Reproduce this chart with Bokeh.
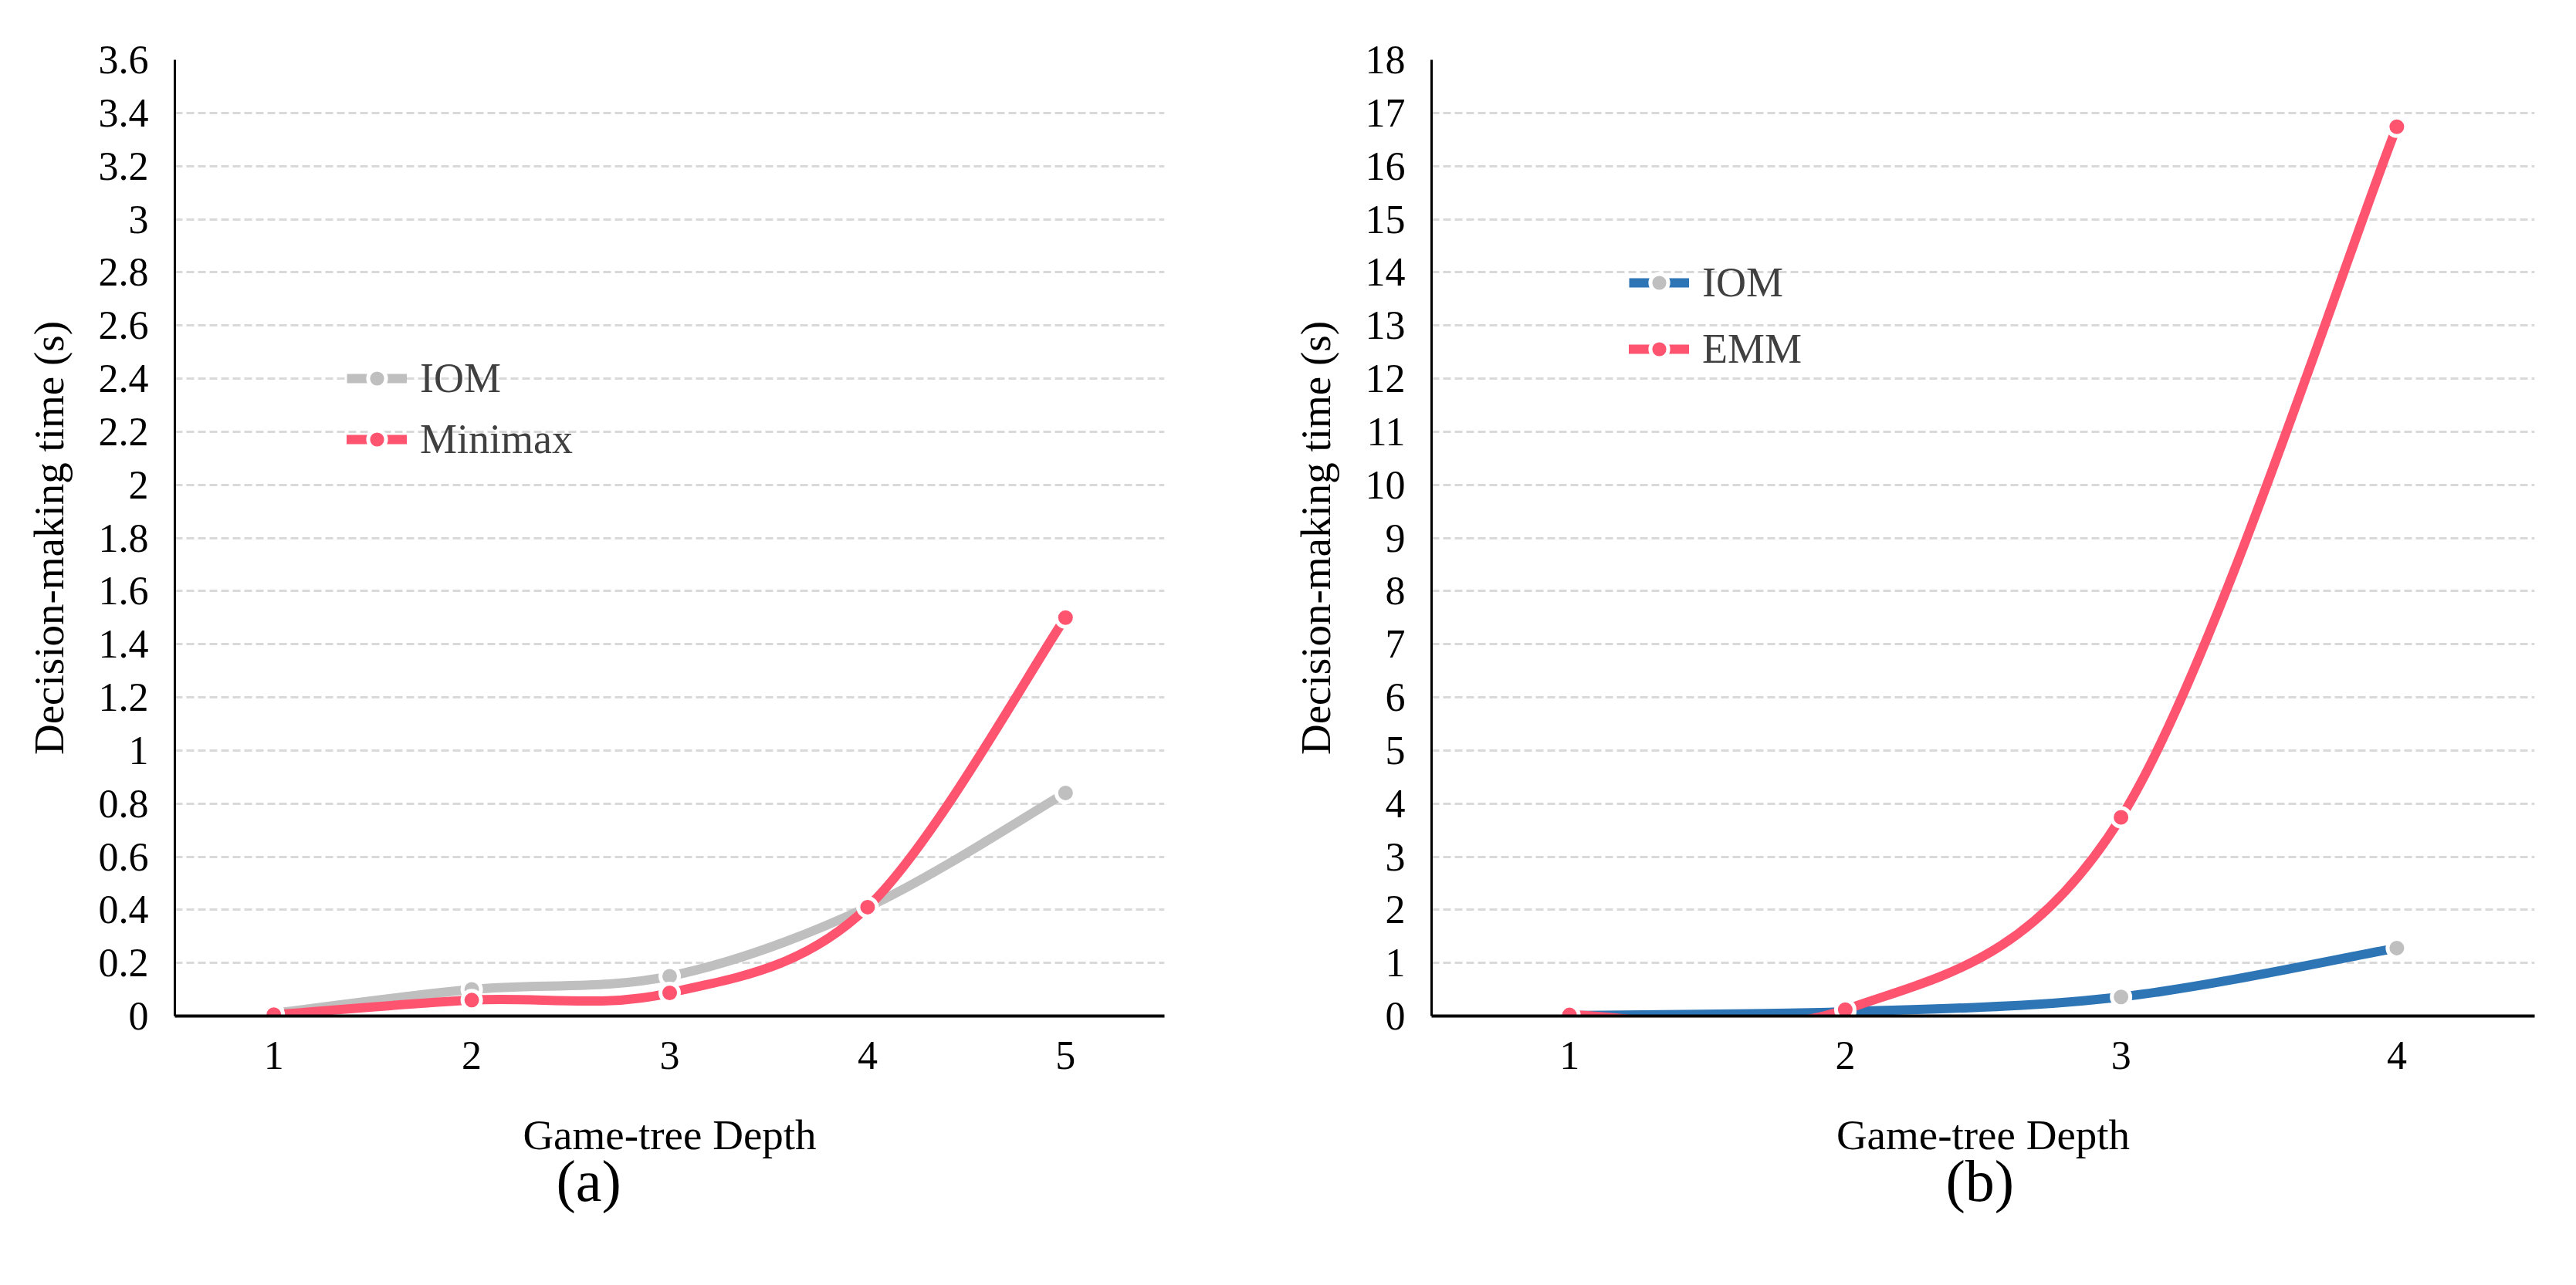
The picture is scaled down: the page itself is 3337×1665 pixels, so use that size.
from bokeh.plotting import figure
from bokeh.models import (Range1d, FixedTicker, NumeralTickFormatter, Legend,
                          LegendItem, Title, ColumnDataSource)
from bokeh.layouts import row
from bokeh.embed import file_html
from bokeh.resources import INLINE

# ---------------- data ----------------
DEPTH_A = [1, 2, 3, 4, 5]
IOM_A = [0.01, 0.10, 0.15, 0.41, 0.84]
MINIMAX_A = [0.005, 0.06, 0.087, 0.41, 1.50]
Y_TICKS_A = [0, 0.2, 0.4, 0.6, 0.8, 1, 1.2, 1.4, 1.6, 1.8, 2, 2.2, 2.4, 2.6,
             2.8, 3, 3.2, 3.4, 3.6]

DEPTH_B = [1, 2, 3, 4]
IOM_B = [0.01, 0.08, 0.36, 1.28]
EMM_B = [0.02, 0.12, 3.74, 16.74]
Y_TICKS_B = [0, 1, 2, 3, 4, 5, 6, 7, 8, 9, 10, 11, 12, 13, 14, 15, 16, 17, 18]

X_LABEL = "Game-tree Depth"
Y_LABEL = "Decision-making time (s)"

RED = "#ff5470"
GREY = "#bfbfbf"
BLUE = "#2e75b6"
FONT = "Liberation Serif"
H = 1649
NAN = float("nan")


def smooth_source(xs, ys):
    """Bezier segments (Catmull-Rom style smoothing, like a spreadsheet smoothed line)."""
    d = dict(x0=[], y0=[], x1=[], y1=[], cx0=[], cy0=[], cx1=[], cy1=[])
    n = len(xs)
    for i in range(n - 1):
        xp, yp = (xs[i - 1], ys[i - 1]) if i > 0 else (xs[i], ys[i])
        xn, yn = (xs[i + 2], ys[i + 2]) if i + 2 < n else (xs[i + 1], ys[i + 1])
        d["x0"].append(xs[i]); d["y0"].append(ys[i])
        d["x1"].append(xs[i + 1]); d["y1"].append(ys[i + 1])
        d["cx0"].append(xs[i] + (xs[i + 1] - xp) / 6.0)
        d["cy0"].append(ys[i] + (ys[i + 1] - yp) / 6.0)
        d["cx1"].append(xs[i + 1] - (xn - xs[i]) / 6.0)
        d["cy1"].append(ys[i + 1] - (yn - ys[i]) / 6.0)
    return ColumnDataSource(d)


def make_panel(width, border, cats, yticks, ymax, series, legend_loc,
               legend_spacing, caption, caption_offset):
    left, right, top, bottom = border
    p = figure(width=width, height=H, output_backend="svg", toolbar_location=None,
               x_range=Range1d(cats[0] - 0.5, cats[-1] + 0.5),
               y_range=Range1d(0, ymax),
               min_border_left=left, min_border_right=right,
               min_border_top=top, min_border_bottom=bottom)
    p.outline_line_color = None
    p.background_fill_color = "white"

    yt = FixedTicker(ticks=yticks)
    p.yaxis.ticker = yt
    p.ygrid.ticker = yt
    p.xaxis.ticker = FixedTicker(ticks=cats)
    p.yaxis.formatter = NumeralTickFormatter(format="0.[0]")
    p.xgrid.visible = False
    p.ygrid.grid_line_color = "#d9d9d9"
    p.ygrid.grid_line_width = 3
    p.ygrid.grid_line_dash = "10 5"

    for ax in (p.xaxis, p.yaxis):
        ax.axis_line_color = "black"
        ax.major_tick_line_color = None
        ax.minor_tick_line_color = None
        ax.major_tick_out = 0
        ax.major_tick_in = 0
        ax.major_label_text_font = FONT
        ax.major_label_text_font_size = "52px"
        ax.major_label_text_color = "black"
        ax.axis_label_text_font = FONT
        ax.axis_label_text_font_size = "55px"
        ax.axis_label_text_font_style = "normal"
        ax.axis_label_text_color = "black"
    p.xaxis.axis_line_width = 4
    p.yaxis.axis_line_width = 3
    p.xaxis.axis_label = X_LABEL
    p.yaxis.axis_label = Y_LABEL
    p.xaxis.major_label_standoff = 33
    p.xaxis.axis_label_standoff = 52
    p.yaxis.major_label_standoff = 34
    p.yaxis.axis_label_standoff = 31

    items = []
    for name, ys, line_color, marker_color, cap in series:
        src = smooth_source(cats, ys)
        p.bezier(x0="x0", y0="y0", x1="x1", y1="y1", cx0="cx0", cy0="cy0",
                 cx1="cx1", cy1="cy1", source=src, line_color=line_color,
                 line_width=12, line_cap="round")
        sc = p.scatter(cats, ys, marker="circle", size=24, fill_color=marker_color,
                       line_color="white", line_width=5)
        # legend-only line (no visible data)
        dummy = p.line(x=[NAN, NAN], y=[NAN, NAN], line_color=line_color,
                       line_width=12, line_cap=cap)
        items.append(LegendItem(label=name, renderers=[dummy, sc]))

    legend = Legend(items=items, location=legend_loc, padding=0, margin=0,
                    spacing=legend_spacing, glyph_width=78, glyph_height=58,
                    label_height=58, label_standoff=17,
                    label_text_font=FONT, label_text_font_size="54px",
                    label_text_color="#404040", border_line_color=None,
                    background_fill_alpha=0)
    p.add_layout(legend)

    p.add_layout(Title(text=caption, align="left", offset=caption_offset,
                       text_font=FONT, text_font_size="76px",
                       text_font_style="normal", text_color="black",
                       standoff=-35), "below")
    return p


pa = make_panel(1620, (226, 112, 77, H - 1316), DEPTH_A, Y_TICKS_A, 3.6,
                [("IOM", IOM_A, GREY, GREY, "butt"),
                 ("Minimax", MINIMAX_A, RED, RED, "round")],
                (223, 716), 17, "(a)", 494)
pb = make_panel(1701, (234, 38, 75, H - 1317), DEPTH_B, Y_TICKS_B, 18,
                [("IOM", IOM_B, BLUE, GREY, "butt"),
                 ("EMM", EMM_B, RED, RED, "round")],
                (256, 833), 24, "(b)", 666)

layout = row(pa, pb, spacing=0)
open("out.html", "w").write(file_html(layout, INLINE))
